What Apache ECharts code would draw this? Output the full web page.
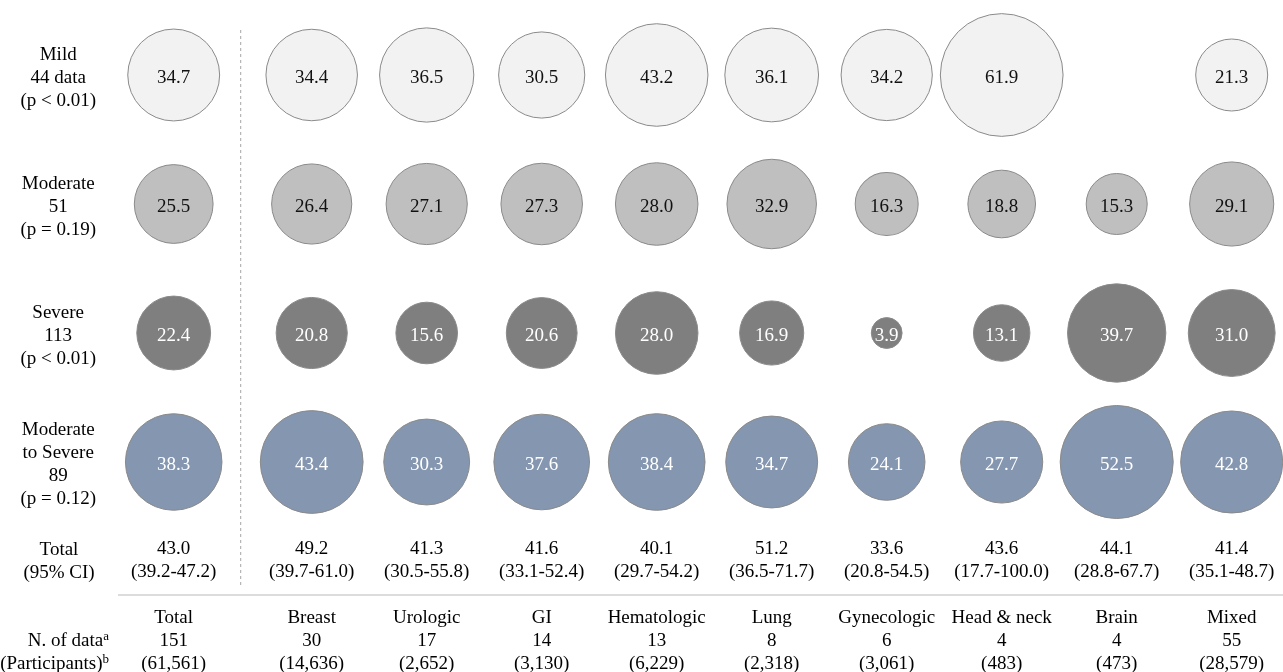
<!DOCTYPE html>
<html>
<head>
<meta charset="utf-8">
<title>Prevalence by severity and cancer type</title>
<script src="https://cdn.jsdelivr.net/npm/echarts@6/dist/echarts.min.js"></script>
<style>
  html, body { margin: 0; padding: 0; background: #fff; }
  #chart { width: 1283px; height: 672px; }
</style>
</head>
<body>
<div id="chart"></div>
<script>
// Columns: overall estimate first, then cancer types
const categories = ['Total', 'Breast', 'Urologic', 'GI', 'Hematologic', 'Lung', 'Gynecologic', 'Head & neck', 'Brain', 'Mixed'];

// Severity rows
const rowNames = ['Mild', 'Moderate', 'Severe', 'Moderate to Severe'];
const rowTitles = ['Mild', 'Moderate', 'Severe', 'Moderate\nto Severe'];
const rowCounts = ['44 data', '51', '113', '89'];
const rowP = ['p < 0.01', 'p = 0.19', 'p < 0.01', 'p = 0.12'];

// Pooled prevalence (%) per severity row and column (null = no estimate)
const mild      = [34.7, 34.4, 36.5, 30.5, 43.2, 36.1, 34.2, 61.9, null, 21.3];
const moderate  = [25.5, 26.4, 27.1, 27.3, 28.0, 32.9, 16.3, 18.8, 15.3, 29.1];
const severe    = [22.4, 20.8, 15.6, 20.6, 28.0, 16.9, 3.9, 13.1, 39.7, 31.0];
const modSevere = [38.3, 43.4, 30.3, 37.6, 38.4, 34.7, 24.1, 27.7, 52.5, 42.8];

// Overall prevalence with 95% CI
const totalEst = [43.0, 49.2, 41.3, 41.6, 40.1, 51.2, 33.6, 43.6, 44.1, 41.4];
const ciLow    = [39.2, 39.7, 30.5, 33.1, 29.7, 36.5, 20.8, 17.7, 28.8, 35.1];
const ciHigh   = [47.2, 61.0, 55.8, 52.4, 54.2, 71.7, 54.5, 100.0, 67.7, 48.7];

// Number of data points and participants
const nData = [151, 30, 17, 14, 13, 8, 6, 4, 4, 55];
const participants = [61561, 14636, 2652, 3130, 6229, 2318, 3061, 483, 473, 28579];

const rowValues = [mild, moderate, severe, modSevere];
const rowFill = ['#f2f2f2', '#bfbfbf', '#7f7f7f', '#8496b0'];
const rowText = ['#111', '#111', '#fff', '#fff'];

const FONT = 'Liberation Serif';
const FS = 19;
const LH = 23;
const BUBBLE_K = 15.6; // bubble area proportional to value

function colLabel(i) {
  return totalEst[i].toFixed(1) + '\n(' + ciLow[i].toFixed(1) + '-' + ciHigh[i].toFixed(1) + ')\n\n' +
    categories[i] + '\n' + nData[i] + '\n(' + participants[i].toLocaleString('en-US') + ')';
}
// Row header, pushed slightly down with an empty spacer line
function rowLabel(r) {
  return '{gap|}\n' + rowTitles[r] + '\n' + rowCounts[r] + '\n(' + rowP[r] + ')';
}

const axisText = { fontFamily: FONT, fontSize: FS, lineHeight: LH, color: '#000' };

const series = [];
[0, 1].forEach(function (g) {
  rowValues.forEach(function (vals, r) {
    const data = [];
    vals.forEach(function (v, i) {
      if (v == null) return;
      if ((g === 0) !== (i === 0)) return;
      data.push([categories[i], rowNames[r], v]);
    });
    series.push({
      type: 'scatter',
      name: rowNames[r],
      xAxisIndex: g,
      yAxisIndex: g,
      data: data,
      symbol: 'circle',
      symbolSize: function (d) { return BUBBLE_K * Math.sqrt(d[2]); },
      itemStyle: { color: rowFill[r], borderColor: '#8a8a8a', borderWidth: 1, opacity: 1 },
      label: {
        show: true,
        position: 'inside',
        offset: [0, 3],
        formatter: function (p) { return p.value[2].toFixed(1); },
        color: rowText[r],
        fontFamily: FONT,
        fontSize: FS
      },
      emphasis: { disabled: true }
    });
  });
});

const chart = echarts.init(document.getElementById('chart'), null, { renderer: 'canvas' });
chart.setOption({
  animation: false,
  textStyle: { fontFamily: FONT },
  grid: [
    { left: 116.2, top: 10.5, width: 115, height: 516, containLabel: false, outerBoundsMode: 'none' },
    { left: 254.2, top: 10.5, width: 1035, height: 516, containLabel: false, outerBoundsMode: 'none' }
  ],
  xAxis: [
    {
      type: 'category', gridIndex: 0, data: categories.slice(0, 1),
      axisLine: { show: false }, axisTick: { show: false }, splitLine: { show: false },
      axisLabel: Object.assign({ interval: 0, margin: 11, formatter: function () { return colLabel(0); } }, axisText)
    },
    {
      type: 'category', gridIndex: 1, data: categories.slice(1),
      axisLine: { show: false }, axisTick: { show: false }, splitLine: { show: false },
      axisLabel: Object.assign({ interval: 0, margin: 11, formatter: function (v, i) { return colLabel(i + 1); } }, axisText)
    }
  ],
  yAxis: [
    {
      type: 'category', gridIndex: 0, data: rowNames, inverse: true,
      axisLine: { show: false }, axisTick: { show: false }, splitLine: { show: false },
      axisLabel: Object.assign({
        interval: 0, margin: 58, align: 'center',
        formatter: function (v, i) { return rowLabel(i); },
        rich: { gap: { lineHeight: 6, fontSize: 1 } }
      }, axisText)
    },
    {
      type: 'category', gridIndex: 1, data: rowNames, inverse: true, show: false
    }
  ],
  series: series,
  graphic: [
    {
      type: 'line', silent: true,
      shape: { x1: 240.7, y1: 30, x2: 240.7, y2: 588 },
      style: { stroke: '#a6a6a6', lineWidth: 1, lineDash: [3, 3] }
    },
    {
      type: 'line', silent: true,
      shape: { x1: 118, y1: 595, x2: 1283, y2: 595 },
      style: { stroke: '#d0d0d0', lineWidth: 1.5 }
    },
    {
      type: 'text', silent: true, x: 59, y: 562,
      style: {
        text: 'Total\n(95% CI)', fill: '#000', fontFamily: FONT, fontSize: FS, lineHeight: LH,
        align: 'center', verticalAlign: 'middle'
      }
    },
    {
      type: 'text', silent: true, x: 109, y: 653,
      style: {
        text: 'N. of data{sup|a}\n(Participants){sup|b}', fill: '#000', fontFamily: FONT, fontSize: FS, lineHeight: LH,
        align: 'right', verticalAlign: 'middle',
        rich: { sup: { fontFamily: FONT, fontSize: 13, lineHeight: 14, verticalAlign: 'top', fill: '#000' } }
      }
    }
  ]
});
</script>
</body>
</html>
